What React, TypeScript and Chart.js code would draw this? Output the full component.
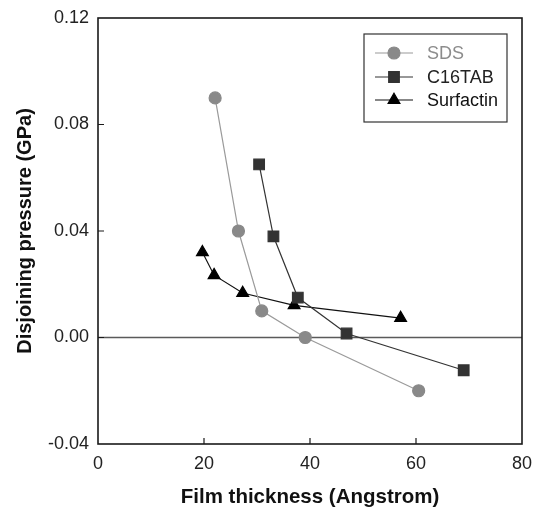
import React, { useEffect, useRef } from "react";
import { Chart, registerables } from "chart.js";
import { drawPoint } from "chart.js/helpers";

Chart.register(...registerables);

// Film thickness (Å) and disjoining pressure (GPa) for each surfactant
const sdsThickness = [22.1, 26.5, 30.9, 39.1, 60.5];
const sdsPressure = [0.09, 0.04, 0.01, 0.0, -0.02];

const c16tabThickness = [30.4, 33.1, 37.7, 46.9, 69.0];
const c16tabPressure = [0.065, 0.038, 0.015, 0.0015, -0.0123];

const surfactinThickness = [19.7, 21.9, 27.3, 37.0, 57.1];
const surfactinPressure = [0.032, 0.0234, 0.0167, 0.0121, 0.0073];

const seriesNames = ["SDS", "C16TAB", "Surfactin"];

const xTicks = [0, 20, 40, 60, 80];
const yTicks = [-0.04, 0.0, 0.04, 0.08, 0.12];

const FONT = "'Liberation Sans', Arial, Helvetica, sans-serif";

const toPoints = (xs: number[], ys: number[]) => xs.map((x, i) => ({ x, y: ys[i] }));

// Frame, inward tick marks, zero line and the boxed legend
const decorations = {
  id: "decorations",
  beforeDatasetsDraw(chart: any) {
    const { ctx, chartArea } = chart;
    const y0 = chart.scales.y.getPixelForValue(0);
    ctx.save();
    ctx.strokeStyle = "#5a5a5a";
    ctx.lineWidth = 1.5;
    ctx.beginPath();
    ctx.moveTo(chartArea.left, y0);
    ctx.lineTo(chartArea.right, y0);
    ctx.stroke();
    ctx.restore();
  },
  afterDraw(chart: any) {
    const { ctx, chartArea } = chart;
    const { left, right, top, bottom } = chartArea;
    const xs = chart.scales.x;
    const ys = chart.scales.y;
    ctx.save();
    ctx.strokeStyle = "#1a1a1a";
    ctx.lineWidth = 1.6;
    ctx.strokeRect(left, top, right - left, bottom - top);

    ctx.lineWidth = 1.2;
    ctx.beginPath();
    xTicks.slice(1, -1).forEach((v) => {
      const px = xs.getPixelForValue(v);
      ctx.moveTo(px, bottom);
      ctx.lineTo(px, bottom - 6);
    });
    yTicks.slice(1, -1).forEach((v) => {
      const py = ys.getPixelForValue(v);
      ctx.moveTo(left, py);
      ctx.lineTo(left + 6, py);
    });
    ctx.stroke();

    // legend
    const boxL = 364;
    const boxR = 507;
    const boxT = 34;
    const boxB = 122;
    ctx.fillStyle = "#ffffff";
    ctx.fillRect(boxL, boxT, boxR - boxL, boxB - boxT);
    ctx.strokeStyle = "#333333";
    ctx.lineWidth = 1.2;
    ctx.strokeRect(boxL, boxT, boxR - boxL, boxB - boxT);

    const rowY = [53, 77, 100];
    chart.data.datasets.forEach((ds: any, i: number) => {
      const y = rowY[i];
      ctx.strokeStyle = ds.borderColor;
      ctx.lineWidth = ds.borderWidth;
      ctx.beginPath();
      ctx.moveTo(375, y);
      ctx.lineTo(413, y);
      ctx.stroke();
      ctx.fillStyle = ds.pointBackgroundColor;
      ctx.strokeStyle = ds.pointBorderColor;
      drawPoint(ctx, { pointStyle: ds.pointStyle, radius: ds.pointRadius, rotation: 0, borderWidth: 1 }, 394, y);
      ctx.fillStyle = ds.legendTextColor;
      ctx.font = `18px ${FONT}`;
      ctx.textBaseline = "middle";
      ctx.textAlign = "left";
      ctx.fillText(ds.label, 427, y + 1);
    });
    ctx.restore();
  },
};

export default function App() {
  const canvasRef = useRef<HTMLCanvasElement | null>(null);

  useEffect(() => {
    document.body.style.margin = "0";
    const canvas = canvasRef.current;
    if (!canvas) return;

    const chart = new Chart(canvas, {
      type: "scatter",
      data: {
        datasets: [
          {
            label: seriesNames[0],
            data: toPoints(sdsThickness, sdsPressure),
            showLine: true,
            borderColor: "#9a9a9a",
            borderWidth: 1.2,
            pointStyle: "circle",
            pointRadius: 6,
            pointBackgroundColor: "#898989",
            pointBorderColor: "#898989",
            legendTextColor: "#8c8c8c",
          } as any,
          {
            label: seriesNames[1],
            data: toPoints(c16tabThickness, c16tabPressure),
            showLine: true,
            borderColor: "#333333",
            borderWidth: 1.2,
            pointStyle: "rect",
            pointRadius: 7.5,
            pointBackgroundColor: "#333333",
            pointBorderColor: "#333333",
            legendTextColor: "#222222",
          } as any,
          {
            label: seriesNames[2],
            data: toPoints(surfactinThickness, surfactinPressure),
            showLine: true,
            borderColor: "#111111",
            borderWidth: 1.2,
            pointStyle: "triangle",
            pointRadius: 6.8,
            pointBackgroundColor: "#000000",
            pointBorderColor: "#000000",
            legendTextColor: "#111111",
          } as any,
        ],
      },
      options: {
        responsive: false,
        animation: false,
        layout: { padding: { top: 18, right: 12, left: 0, bottom: 0 } },
        plugins: {
          legend: { display: false },
          tooltip: { enabled: false },
        },
        scales: {
          x: {
            type: "linear",
            min: 0,
            max: 80,
            afterBuildTicks: (s: any) => {
              s.ticks = xTicks.map((v) => ({ value: v }));
            },
            afterFit: (s: any) => {
              s.height = 66;
              s.paddingLeft = 0;
              s.paddingRight = 0;
            },
            grid: { display: false, drawTicks: false },
            border: { display: false },
            ticks: {
              padding: 9,
              color: "#222222",
              font: { family: FONT, size: 18 },
              maxRotation: 0,
              callback: (v: any) => String(v),
            },
            title: {
              display: true,
              text: "Film thickness (Angstrom)",
              color: "#111111",
              font: { family: FONT, size: 20.5, weight: "bold" },
              padding: { top: 0, bottom: 0 },
            },
          },
          y: {
            type: "linear",
            min: -0.04,
            max: 0.12,
            afterBuildTicks: (s: any) => {
              s.ticks = yTicks.map((v) => ({ value: v }));
            },
            afterFit: (s: any) => {
              s.width = 98;
              s.paddingTop = 0;
              s.paddingBottom = 0;
            },
            grid: { display: false, drawTicks: false },
            border: { display: false },
            ticks: {
              padding: 9,
              color: "#222222",
              font: { family: FONT, size: 18 },
              callback: (v: any) => Number(v).toFixed(2),
            },
            title: {
              display: true,
              text: "Disjoining pressure (GPa)",
              color: "#111111",
              font: { family: FONT, size: 20, weight: "bold" },
              padding: { top: 13, bottom: 0 },
            },
          },
        },
      },
      plugins: [decorations],
    });

    return () => chart.destroy();
  }, []);

  return (
    <div style={{ width: 534, height: 510 }}>
      <canvas ref={canvasRef} width={534} height={510} />
    </div>
  );
}
